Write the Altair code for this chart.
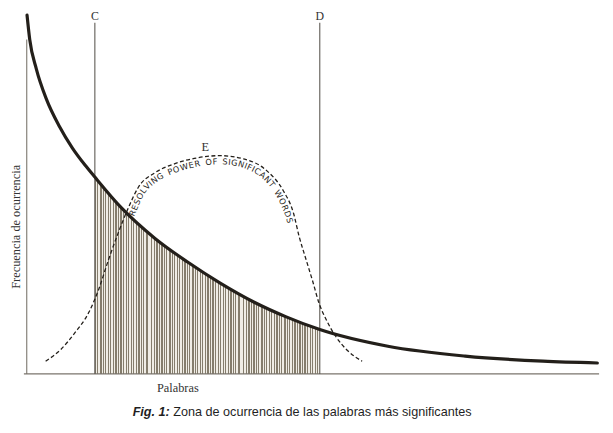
import math
import altair as alt
import pandas as pd

# ---------------- data ----------------
# Zipf-like frequency curve (thick solid line)
zipf_x = [0.05, 0.52, 1.67, 3.4, 5.69, 7.98, 10.29, 11.9, 16.55, 22.41, 28.1, 33.8,
          39.66, 45.34, 51.2, 63.1, 76.6, 90.2, 99.7]
zipf_y = [98.8, 92.1, 84.0, 75.8, 68.2, 62.2, 57.3, 54.2, 45.7, 37.3, 30.8, 25.0,
          19.8, 15.7, 12.2, 7.6, 4.9, 3.5, 3.0]

# "Resolving power of significant words" (dashed bell curve)
power_x = [3.3, 6.0, 8.3, 10.9, 12.6, 14.3, 16.0, 17.8, 19.5, 22.4, 25.9, 29.8,
           33.8, 37.9, 41.9, 44.8, 46.6, 47.6, 48.8, 50.0, 51.0, 52.4, 54.0, 56.0, 58.6]
power_y = [3.5, 6.8, 11.1, 17.1, 23.4, 31.5, 38.9, 45.9, 51.4, 55.4, 57.9, 59.5,
           60.1, 59.2, 56.0, 50.5, 44.3, 37.8, 31.5, 25.3, 19.8, 14.7, 10.3, 6.5, 3.5]

# cut-off lines C and D
cut_x = [11.9, 51.2]
cut_top = [96.7, 96.7]
cut_labels = ["C", "D"]

curve_label = "RESOLVING POWER OF SIGNIFICANT WORDS"
peak_label = "E"
x_title = "Palabras"
y_title = "Frecuencia de ocurrencia"
caption_bold = "Fig. 1:"
caption_rest = "Zona de ocurrencia de las palabras más significantes"

# ---------------- layout ----------------
W, H = 580, 368
X_MAX, Y_MAX = 100.0, 100.0
KX, KY = W / X_MAX, H / Y_MAX

xs = alt.Scale(domain=[0, X_MAX], nice=False)
ys = alt.Scale(domain=[0, Y_MAX], nice=False)

INK = "#231f1a"
SERIF = "Liberation Serif"

zipf_df = pd.DataFrame({"x": zipf_x, "y": zipf_y})
power_df = pd.DataFrame({"x": power_x, "y": power_y})
cut_df = pd.DataFrame({"x": cut_x, "top": cut_top, "label": cut_labels,
                       "base": [0.0] * len(cut_x), "ylab": [98.6] * len(cut_x)})


def X():
    return alt.X("x:Q", scale=xs, axis=None)


def Y(field="y"):
    return alt.Y(f"{field}:Q", scale=ys, axis=None)


# ---------- hatched band under the curve between C and D ----------
hatch_dark = "#857d6d"
hatch_light = "#f0ede6"
pattern = [0.55, 0.38, 0.64, 0.45, 0.33, 0.6, 0.5, 0.4, 0.68, 0.36, 0.52, 0.47]
n_str = 88
stops = []
for i in range(n_str):
    a = i / n_str
    m = (i + pattern[i % len(pattern)]) / n_str
    b = (i + 1) / n_str
    stops += [alt.GradientStop(color=hatch_dark, offset=a),
              alt.GradientStop(color=hatch_dark, offset=m),
              alt.GradientStop(color=hatch_light, offset=m),
              alt.GradientStop(color=hatch_light, offset=b)]
hatch_fill = alt.Gradient(gradient="linear", stops=stops, x1=0, x2=1, y1=0, y2=0)

hatch = alt.Chart(zipf_df).transform_filter(
    (alt.datum.x >= cut_x[0]) & (alt.datum.x <= cut_x[1])
).mark_area(interpolate="monotone", color=hatch_fill).encode(x=X(), y=Y())

# ---------- axes drawn as rules ----------
axes_df = pd.DataFrame({"x": [0.0, -0.5], "x2": [0.0, 100.0],
                        "y": [0.0, 0.0], "y2": [92.1, 0.0]})
axes = alt.Chart(axes_df).mark_rule(color="#7a756d", strokeWidth=1.1).encode(
    x=X(), x2="x2:Q", y=Y(), y2="y2:Q")

cuts = alt.Chart(cut_df).mark_rule(color="#5e5a54", strokeWidth=1.1).encode(
    x=X(), y=Y("base"), y2="top:Q")

cut_text = alt.Chart(cut_df).mark_text(font=SERIF, fontSize=12, color="#333",
                                       baseline="middle").encode(
    x=X(), y=Y("ylab"), text="label:N")

# ---------- curves ----------
power_line = alt.Chart(power_df).mark_line(
    interpolate="monotone", color=INK, strokeWidth=1.3, strokeDash=[4, 2.5]
).encode(x=X(), y=Y())

zipf_line = alt.Chart(zipf_df).mark_line(
    interpolate="monotone", color=INK, strokeWidth=3.2, strokeCap="round"
).encode(x=X(), y=Y())

# ---------- text set along the inside of the dashed curve ----------
pts = [(x * KX, (Y_MAX - y) * KY) for x, y in zip(power_x, power_y)]
dense = []
for i in range(len(pts) - 1):
    p0 = pts[max(i - 1, 0)]
    p1 = pts[i]
    p2 = pts[i + 1]
    p3 = pts[min(i + 2, len(pts) - 1)]
    for k in range(20):
        t = k / 20
        t2, t3 = t * t, t * t * t
        dense.append(tuple(
            0.5 * (2 * p1[j] + (-p0[j] + p2[j]) * t
                   + (2 * p0[j] - 5 * p1[j] + 4 * p2[j] - p3[j]) * t2
                   + (-p0[j] + 3 * p1[j] - 3 * p2[j] + p3[j]) * t3)
            for j in range(2)))
dense.append(pts[-1])

OFF = 6.8
path = []
for i in range(len(dense)):
    a = dense[max(i - 1, 0)]
    b = dense[min(i + 1, len(dense) - 1)]
    tx, ty = b[0] - a[0], b[1] - a[1]
    L = math.hypot(tx, ty) or 1.0
    tx, ty = tx / L, ty / L
    path.append((dense[i][0] - ty * OFF, dense[i][1] + tx * OFF, tx, ty))

cum = [0.0]
for i in range(1, len(path)):
    cum.append(cum[-1] + math.hypot(path[i][0] - path[i - 1][0], path[i][1] - path[i - 1][1]))


def nearest_s(px, py):
    best = min(range(len(path)), key=lambda i: (path[i][0] - px) ** 2 + (path[i][1] - py) ** 2)
    return cum[best]


def at_s(s):
    for i in range(1, len(cum)):
        if cum[i] >= s:
            f = (s - cum[i - 1]) / ((cum[i] - cum[i - 1]) or 1)
            a, b = path[i - 1], path[i]
            return tuple(a[j] + (b[j] - a[j]) * f for j in range(4))
    return path[-1]


em = {"A": .684, "C": .698, "D": .770, "E": .632, "F": .575, "G": .775, "I": .295,
      "L": .557, "N": .748, "O": .787, "P": .603, "R": .695, "S": .635, "T": .611,
      "V": .684, "W": .989, " ": .5}
widths = [em.get(c, .65) for c in curve_label]
centers = []
acc = 0.0
for w in widths:
    centers.append(acc + w / 2)
    acc += w
s_a = nearest_s(133 - 27, 213 - 8)   # first letter
s_b = nearest_s(292 - 27, 221 - 8)   # last letter
rows = []
for ch, c in zip(curve_label, centers):
    if ch == " ":
        continue
    s = s_a + (c - centers[0]) / (centers[-1] - centers[0]) * (s_b - s_a)
    px, py, tx, ty = at_s(s)
    rows.append({"x": px / KX, "y": Y_MAX - py / KY, "ch": ch,
                 "angle": round(math.degrees(math.atan2(ty, tx)) % 360, 2)})
curve_text_df = pd.DataFrame(rows)

curve_text = alt.Chart(curve_text_df).mark_text(
    font="DejaVu Sans", fontSize=8.3, color="#2a2723", align="center", baseline="middle"
).encode(x=X(), y=Y(), text="ch:N", angle=alt.Angle("angle:Q", scale=None))

# ---------- other labels ----------
lab_df = pd.DataFrame({"x": [31.2, 26.4], "y": [62.4, -3.9], "t": [peak_label, x_title]})
labels = alt.Chart(lab_df).mark_text(font=SERIF, fontSize=12.5, color="#333",
                                     baseline="middle").encode(x=X(), y=Y(), text="t:N")

ytitle = alt.Chart(pd.DataFrame({"x": [-1.9], "y": [40.5], "t": [y_title]})).mark_text(
    font=SERIF, fontSize=12.5, color="#333", angle=270, baseline="middle"
).encode(x=X(), y=Y(), text="t:N")

CAP_FONT = "Liberation Sans"
cap1 = alt.Chart(pd.DataFrame({"x": [25.0], "y": [-11.7], "t": [caption_bold]})).mark_text(
    font=CAP_FONT, fontSize=12.8, fontWeight="bold", fontStyle="italic", color="#1f1f1f",
    align="right", baseline="alphabetic").encode(x=X(), y=Y(), text="t:N")
cap2 = alt.Chart(pd.DataFrame({"x": [25.6], "y": [-11.7], "t": [caption_rest]})).mark_text(
    font=CAP_FONT, fontSize=12.8, color="#1f1f1f",
    align="left", baseline="alphabetic").encode(x=X(), y=Y(), text="t:N")

chart = alt.layer(
    hatch, axes, cuts, power_line, zipf_line, curve_text, cut_text, labels, ytitle, cap1, cap2
).properties(
    width=W, height=H,
    autosize=alt.AutoSizeParams(type="none"),
    padding={"left": 19, "top": 0, "right": 6, "bottom": 49},
    background="white",
).configure_view(stroke=None)

chart.save("out.html", embed_options={"renderer": "svg", "actions": False})
